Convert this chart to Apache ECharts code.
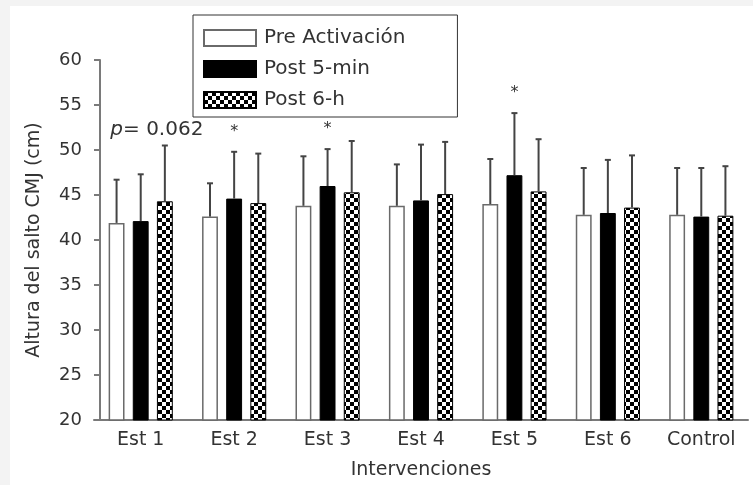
<!DOCTYPE html>
<html>
<head>
<meta charset="utf-8">
<script src="https://cdn.jsdelivr.net/npm/echarts@6/dist/echarts.min.js"></script>
<style>
  html, body { margin:0; padding:0; background:#f3f3f3; width:753px; height:485px; overflow:hidden; }
  #chart { position:absolute; left:10px; top:6px; width:743px; height:479px; background:#ffffff; }
</style>
</head>
<body>
<div id="chart"></div>
<script>
// ---- data ----
const categories = ['Est 1', 'Est 2', 'Est 3', 'Est 4', 'Est 5', 'Est 6', 'Control'];
const seriesNames = ['Pre Activación', 'Post 5-min', 'Post 6-h'];
const preMean   = [41.9, 42.6, 43.8, 43.8, 44.0, 42.8, 42.8];
const preSD     = [4.8, 3.7, 5.5, 4.6, 5.0, 5.2, 5.2];
const post5Mean = [42.1, 44.6, 46.0, 44.4, 47.2, 43.0, 42.6];
const post5SD   = [5.2, 5.2, 4.1, 6.2, 6.9, 5.9, 5.4];
const post6Mean = [44.3, 44.1, 45.3, 45.1, 45.4, 43.6, 42.7];
const post6SD   = [6.2, 5.5, 5.7, 5.8, 5.8, 5.8, 5.5];
const yMin = 20, yMax = 60, yInterval = 5;
const annotations = [
  { cat: 0, series: 2, text: 'p= 0.062' },
  { cat: 1, series: 1, text: '*' },
  { cat: 2, series: 1, text: '*' },
  { cat: 4, series: 1, text: '*' }
];

// ---- styling ----
const FONT = 'DejaVu Sans';
const TXT = '#333333';
const AXIS = '#7a7a7a';
const BAR_W = 0.17, BAR_GAP = 0.52;

const means = [preMean, post5Mean, post6Mean];
const sds = [preSD, post5SD, post6SD];

// checker pattern
const pc = document.createElement('canvas');
pc.width = 8; pc.height = 8;
const pctx = pc.getContext('2d');
pctx.fillStyle = '#ffffff'; pctx.fillRect(0, 0, 8, 8);
pctx.fillStyle = '#000000'; pctx.fillRect(0, 0, 4, 4); pctx.fillRect(4, 4, 4, 4);
const checker = { image: pc, repeat: 'repeat' };

const barStyles = [
  { color: '#ffffff', borderColor: '#6a6a6a', borderWidth: 1.5 },
  { color: '#000000', borderColor: '#000000', borderWidth: 1 },
  { color: checker, borderColor: '#000000', borderWidth: 1 }
];

function barOffset(api, s) {
  const band = api.size([1, 0])[0];
  const bw = band * BAR_W;
  const gap = bw * BAR_GAP;
  return (s - 1) * (bw + gap);
}

const errData = [];
for (let s = 0; s < 3; s++) {
  for (let c = 0; c < categories.length; c++) {
    errData.push([c, s, means[s][c], means[s][c] + sds[s][c]]);
  }
}
const annData = annotations.map(a => [a.cat, a.series, means[a.series][a.cat] + sds[a.series][a.cat]]);

const series = seriesNames.map((name, s) => ({
  name: name,
  type: 'bar',
  data: means[s],
  barWidth: (BAR_W * 100) + '%',
  barGap: (BAR_GAP * 100) + '%',
  itemStyle: barStyles[s],
  emphasis: { disabled: true },
  z: 2
}));

series.push({
  type: 'custom',
  name: 'err',
  data: errData,
  z: 3,
  silent: true,
  renderItem: function (params, api) {
    const c = api.value(0), s = api.value(1);
    const p0 = api.coord([c, api.value(2)]);
    const p1 = api.coord([c, api.value(3)]);
    const x = p0[0] + barOffset(api, s);
    const st = { stroke: '#444444', lineWidth: 2 };
    return {
      type: 'group',
      children: [
        { type: 'line', shape: { x1: x, y1: p0[1], x2: x, y2: p1[1] }, style: st },
        { type: 'line', shape: { x1: x - 3, y1: p1[1], x2: x + 3, y2: p1[1] }, style: st }
      ]
    };
  }
});

series.push({
  type: 'custom',
  name: 'ann',
  data: annData,
  z: 4,
  silent: true,
  renderItem: function (params, api) {
    const a = annotations[params.dataIndex];
    const c = api.value(0), s = api.value(1);
    const p = api.coord([c, api.value(2)]);
    const x = p[0] + barOffset(api, s);
    if (a.text === '*') {
      return { type: 'text', x: x, y: p[1] - 20,
        style: { text: '*', fontFamily: FONT, fontSize: 16, fill: '#333', align: 'center', verticalAlign: 'middle' } };
    }
    const parts = a.text.split('=');
    return { type: 'text', x: x - 8, y: p[1] - 16,
      style: {
        text: '{i|' + parts[0] + '}{n|=' + parts.slice(1).join('=') + '}',
        rich: {
          i: { fontFamily: FONT, fontSize: 20, fontStyle: 'italic', fill: TXT },
          n: { fontFamily: FONT, fontSize: 20, fill: TXT }
        },
        align: 'center', verticalAlign: 'middle'
      } };
  }
});

const chart = echarts.init(document.getElementById('chart'), null, { renderer: 'canvas' });
chart.setOption({
  animation: false,
  backgroundColor: '#ffffff',
  textStyle: { fontFamily: FONT },
  grid: { left: 84, right: 5, top: 54, bottom: 64, containLabel: false },
  legend: {
    data: seriesNames,
    icon: 'rect',
    orient: 'vertical',
    left: 183, top: 9,
    padding: [13, 52, 7, 10],
    itemWidth: 52, itemHeight: 16, itemGap: 11,
    borderColor: '#333', borderWidth: 1,
    backgroundColor: '#ffffff',
    selectedMode: false,
    textStyle: { fontFamily: FONT, fontSize: 20, color: TXT, lineHeight: 16, padding: [3, 0, 0, 3] }
  },
  xAxis: {
    type: 'category',
    data: categories,
    name: 'Intervenciones',
    nameLocation: 'middle',
    nameGap: 41,
    nameTextStyle: { fontFamily: FONT, fontSize: 19, color: TXT },
    axisLine: { lineStyle: { color: AXIS, width: 2 } },
    axisTick: { show: false },
    axisLabel: { fontFamily: FONT, fontSize: 19, color: TXT, margin: 11, interval: 0 }
  },
  yAxis: {
    type: 'value',
    min: yMin, max: yMax, interval: yInterval,
    offset: -6,
    name: 'Altura del salto CMJ (cm)',
    nameLocation: 'middle',
    nameGap: 56,
    nameTextStyle: { fontFamily: FONT, fontSize: 19, color: TXT },
    axisLine: { show: true, lineStyle: { color: AXIS, width: 2 } },
    axisTick: { show: true, length: 6, lineStyle: { color: AXIS, width: 2 } },
    splitLine: { show: false },
    axisLabel: { fontFamily: FONT, fontSize: 18, color: TXT, margin: 18 }
  },
  series: series
});
</script>
</body>
</html>
